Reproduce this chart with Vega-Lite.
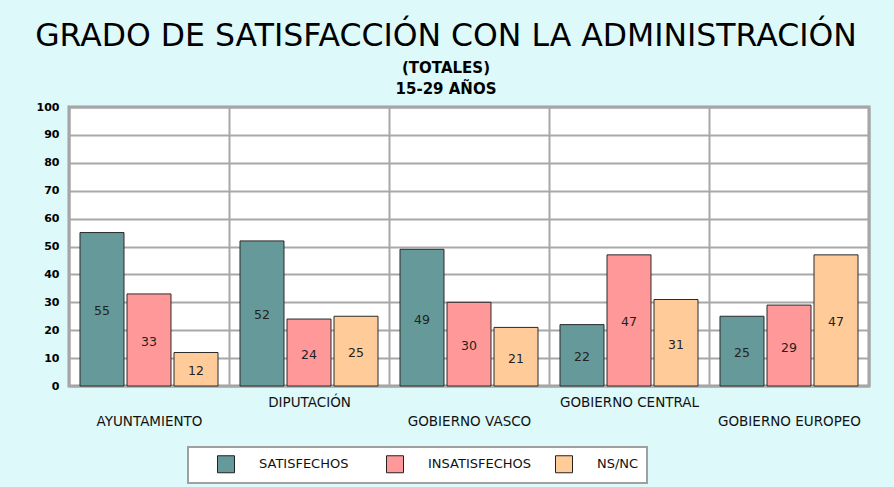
{
  "$schema": "https://vega.github.io/schema/vega-lite/v6.json",
  "width": 800,
  "height": 279,
  "autosize": {"type": "none"},
  "padding": {"left": 69, "top": 107, "right": 25, "bottom": 101},
  "background": "#ddf9f9",
  "title": {
    "text": "GRADO DE SATISFACCIÓN CON LA ADMINISTRACIÓN",
    "subtitle": ["(TOTALES)", "15-29 AÑOS"],
    "anchor": "middle",
    "frame": "group",
    "dx": -23,
    "offset": 4,
    "font": "DejaVu Sans",
    "fontSize": 31.5,
    "fontWeight": "normal",
    "color": "#000000",
    "subtitleFont": "DejaVu Sans",
    "subtitleFontSize": 15,
    "subtitleFontWeight": "bold",
    "subtitleColor": "#000000",
    "subtitlePadding": 9,
    "subtitleLineHeight": 21
  },
  "data": {
    "values": [
      {"administracion": "Ayuntamiento", "respuesta": "Satisfechos", "porcentaje": 55},
      {"administracion": "Ayuntamiento", "respuesta": "Insatisfechos", "porcentaje": 33},
      {"administracion": "Ayuntamiento", "respuesta": "Ns/Nc", "porcentaje": 12},
      {"administracion": "Diputación", "respuesta": "Satisfechos", "porcentaje": 52},
      {"administracion": "Diputación", "respuesta": "Insatisfechos", "porcentaje": 24},
      {"administracion": "Diputación", "respuesta": "Ns/Nc", "porcentaje": 25},
      {"administracion": "Gobierno Vasco", "respuesta": "Satisfechos", "porcentaje": 49},
      {"administracion": "Gobierno Vasco", "respuesta": "Insatisfechos", "porcentaje": 30},
      {"administracion": "Gobierno Vasco", "respuesta": "Ns/Nc", "porcentaje": 21},
      {"administracion": "Gobierno Central", "respuesta": "Satisfechos", "porcentaje": 22},
      {"administracion": "Gobierno Central", "respuesta": "Insatisfechos", "porcentaje": 47},
      {"administracion": "Gobierno Central", "respuesta": "Ns/Nc", "porcentaje": 31},
      {"administracion": "Gobierno Europeo", "respuesta": "Satisfechos", "porcentaje": 25},
      {"administracion": "Gobierno Europeo", "respuesta": "Insatisfechos", "porcentaje": 29},
      {"administracion": "Gobierno Europeo", "respuesta": "Ns/Nc", "porcentaje": 47}
    ]
  },
  "encoding": {
    "x": {
      "field": "administracion",
      "type": "nominal",
      "sort": ["Ayuntamiento", "Diputación", "Gobierno Vasco", "Gobierno Central", "Gobierno Europeo"],
      "scale": {"paddingInner": 0, "paddingOuter": 0},
      "axis": {
        "title": null,
        "tickBand": "extent",
        "grid": true,
        "gridColor": "#a8a8a8",
        "gridWidth": 2,
        "ticks": false,
        "domain": false,
        "labelAngle": 0,
        "labelOverlap": false,
        "labelLimit": 300,
        "labelExpr": "upper(datum.label)",
        "labelFont": "DejaVu Sans",
        "labelFontSize": 13.5,
        "labelColor": "#111111",
        "labelPadding": {
          "condition": {"test": "indexof(['Diputación', 'Gobierno Central'], datum.value) >= 0", "value": 9},
          "value": 28
        }
      }
    },
    "xOffset": {
      "field": "respuesta",
      "type": "nominal",
      "sort": ["Satisfechos", "Insatisfechos", "Ns/Nc"],
      "scale": {"paddingInner": 0.064, "paddingOuter": 0.234}
    }
  },
  "layer": [
    {
      "mark": {"type": "bar", "stroke": "#2a2a2a", "strokeWidth": 1},
      "encoding": {
        "y": {
          "field": "porcentaje",
          "type": "quantitative",
          "scale": {"domain": [0, 100]},
          "axis": {
            "title": null,
            "values": [0, 10, 20, 30, 40, 50, 60, 70, 80, 90, 100],
            "grid": true,
            "gridColor": "#a8a8a8",
            "gridWidth": 2,
            "domain": false,
            "ticks": false,
            "labelOverlap": false,
            "labelPadding": 10,
            "labelFont": "DejaVu Sans",
            "labelFontSize": 11,
            "labelFontWeight": "bold",
            "labelColor": "#000000"
          }
        },
        "color": {
          "field": "respuesta",
          "type": "nominal",
          "scale": {"domain": ["Satisfechos", "Insatisfechos", "Ns/Nc"], "range": ["#669999", "#ff9999", "#ffcc99"]},
          "legend": {
            "title": null,
            "orient": "none",
            "legendX": 119,
            "legendY": 340,
            "direction": "horizontal",
            "columns": 3,
            "gridAlign": "all",
            "symbolType": "square",
            "symbolSize": 289,
            "symbolStrokeColor": "#222222",
            "symbolStrokeWidth": 1,
            "symbolOffset": 21,
            "labelExpr": "upper(datum.label)",
            "labelFont": "DejaVu Sans",
            "labelFontSize": 13,
            "labelColor": "#111111",
            "labelOffset": 24,
            "columnPadding": 3,
            "padding": 8,
            "fillColor": "#ffffff",
            "strokeColor": "#a0a0a0"
          }
        }
      }
    },
    {
      "transform": [{"calculate": "datum.porcentaje / 2", "as": "centro"}],
      "mark": {"type": "text", "font": "DejaVu Sans", "fontSize": 12.5, "color": "#222222", "baseline": "middle", "dy": 2},
      "encoding": {
        "y": {
          "field": "centro",
          "type": "quantitative",
          "axis": {
            "title": null,
            "values": [0, 10, 20, 30, 40, 50, 60, 70, 80, 90, 100],
            "grid": true,
            "gridColor": "#a8a8a8",
            "gridWidth": 2,
            "domain": false,
            "ticks": false,
            "labelOverlap": false,
            "labelPadding": 10,
            "labelFont": "DejaVu Sans",
            "labelFontSize": 11,
            "labelFontWeight": "bold",
            "labelColor": "#000000"
          }
        },
        "text": {"field": "porcentaje", "type": "quantitative"}
      }
    }
  ],
  "config": {
    "view": {"fill": "#ffffff", "stroke": "#a0a0a0", "strokeWidth": 3},
    "legend": {"strokeWidth": 2}
  }
}
